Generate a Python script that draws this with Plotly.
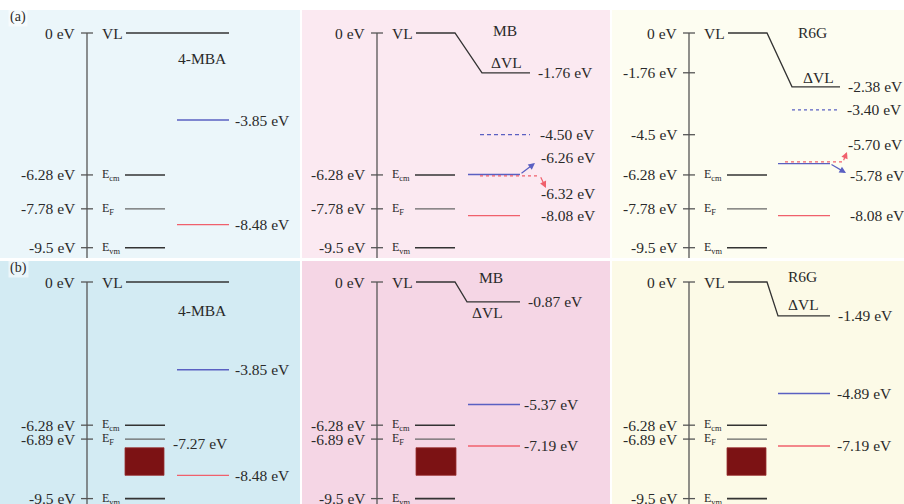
import plotly.graph_objects as go

# ---------------- data (eV) ----------------
molecules = ["4-MBA", "MB", "R6G"]
row_tags = ["(a)", "(b)"]

sub_names = ["VL", "E<sub>cm</sub>", "E<sub>F</sub>", "E<sub>vm</sub>"]
sub_a = [0.0, -6.28, -7.78, -9.5]
sub_b = [0.0, -6.28, -6.89, -9.5]

ticks_a = [[0.0, -6.28, -7.78, -9.5],
           [0.0, -6.28, -7.78, -9.5],
           [0.0, -1.76, -4.5, -6.28, -7.78, -9.5]]
tick_text_a = [["0 eV", "-6.28 eV", "-7.78 eV", "-9.5 eV"],
               ["0 eV", "-6.28 eV", "-7.78 eV", "-9.5 eV"],
               ["0 eV", "-1.76 eV", "-4.5 eV", "-6.28 eV", "-7.78 eV", "-9.5 eV"]]
ticks_b = [0.0, -6.28, -6.89, -9.5]
tick_text_b = ["0 eV", "-6.28 eV", "-6.89 eV", "-9.5 eV"]

vl_a = [0.0, -1.76, -2.38]          # vacuum level on the molecule side
vl_b = [0.0, -0.87, -1.49]

lumo_a = [-3.85, -6.26, -5.78]      # solid blue
homo_a = [-8.48, -8.08, -8.08]      # solid red
lumo_a_dash = [None, -4.50, -3.40]  # dashed blue
homo_a_dot = [None, -6.32, -5.70]   # dotted red

lumo_b = [-3.85, -5.37, -4.89]
homo_b = [-8.48, -7.19, -7.19]
band_b = [-7.27, -8.48]             # filled band below E_F

# ---------------- layout geometry ----------------
W, H = 904, 504
ROWS = [dict(top=10, bottom=258, zero=33, ppe=22.6),
        dict(top=261, bottom=504, zero=282, ppe=22.8)]
COLS = [(0, 300), (302, 610), (612, 904)]
AXIS_X = [87, 377, 689]
BG = [["#ebf6fa", "#fbe9f1", "#fdfdf1"],
      ["#d3ebf3", "#f5d6e5", "#fcfae7"]]

FONT = "Liberation Serif, Times New Roman, serif"
TXT = "#2a2a2a"
BLACK = "#333333"
GREY = "#555555"
BLUE = "#5a60c2"
RED = "#f0606c"
BOX = "#7c1214"

fig = go.Figure()
annotations = []
shapes = []


def ey(r, px):
    """pixel row -> energy coordinate of row r"""
    return (ROWS[r]["zero"] - px) / ROWS[r]["ppe"]


def line(idx, xs, ys, color, width=1.4, dash="solid"):
    fig.add_trace(go.Scatter(x=xs, y=ys, mode="lines", xaxis=f"x{idx}", yaxis=f"y{idx}",
                             line=dict(color=color, width=width, dash=dash),
                             hoverinfo="skip", showlegend=False))


def text(idx, x, y, s, anchor="left", size=15.5):
    annotations.append(dict(x=x, y=y, xref=f"x{idx}", yref=f"y{idx}", text=s,
                            showarrow=False, xanchor=anchor, yanchor="middle",
                            font=dict(family=FONT, size=size, color=TXT)))


def arrow(idx, x0, y0, x1, y1, color):
    annotations.append(dict(x=x1, y=y1, ax=x0, ay=y0, xref=f"x{idx}", yref=f"y{idx}",
                            axref=f"x{idx}", ayref=f"y{idx}", text="", showarrow=True,
                            arrowhead=2, arrowsize=1.1, arrowwidth=1.2, arrowcolor=color))


layout_axes = {}
for r in range(2):
    R = ROWS[r]
    ylo = -(R["bottom"] - R["zero"]) / R["ppe"]
    yhi = (R["zero"] - R["top"]) / R["ppe"]
    for c in range(3):
        idx = r * 3 + c + 1
        x0, x1 = COLS[c]
        sfx = "" if idx == 1 else str(idx)
        layout_axes[f"xaxis{sfx}"] = dict(domain=[x0 / W, x1 / W], range=[x0, x1],
                                          visible=False, fixedrange=True, anchor=f"y{idx}")
        layout_axes[f"yaxis{sfx}"] = dict(domain=[1 - R["bottom"] / H, 1 - R["top"] / H],
                                          range=[ylo, yhi], visible=False, fixedrange=True,
                                          anchor=f"x{idx}")
        shapes.append(dict(type="rect", xref=f"x{idx}", yref=f"y{idx}", x0=x0, x1=x1,
                           y0=ylo, y1=yhi, fillcolor=BG[r][c], line=dict(width=0),
                           layer="below"))

        # energy axis with ticks
        ax = AXIS_X[c]
        line(idx, [ax, ax], [0, ylo], GREY, 1.3)
        tv = ticks_a[c] if r == 0 else ticks_b
        tt = tick_text_a[c] if r == 0 else tick_text_b
        tx, ty = [], []
        for v, s in zip(tv, tt):
            tx += [ax - 6, ax + 6, None]
            ty += [v, v, None]
            text(idx, ax - 9, v, s, anchor="right")
        line(idx, tx, ty, GREY, 1.3)

        # substrate levels
        sub = sub_a if r == 0 else sub_b
        lx0, lx1 = ax + 38, ax + 78
        for k, (name, v) in enumerate(zip(sub_names, sub)):
            if k == 0:
                text(idx, ax + 13, v, name)
            else:
                text(idx, ax + 13, v, name, size=12)
                line(idx, [lx0, lx1], [v, v], BLACK if k != 2 else "#666666",
                     1.6 if k != 2 else 1.2)

        # vacuum level, bending by the dipole step on the molecule side
        if c == 0:
            line(idx, [lx0 + 1, ax + 142], [0, 0], BLACK, 1.5)
        else:
            vl = vl_a[c] if r == 0 else vl_b[c]
            if r == 0:
                bend_end, flat_end = (ax + 105, ax + 153) if c == 1 else (ax + 103, ax + 151)
            else:
                bend_end, flat_end = (ax + 90, ax + 143) if c == 1 else (ax + 89, ax + 141)
            line(idx, [lx0 + 1, lx1, bend_end, flat_end], [0, 0, vl, vl], BLACK, 1.3)
            text(idx, flat_end + 6, vl, f"{vl:.2f} eV")

# ---- row (a) ----
# 4-MBA
text(1, 202, ey(0, 58), "4-MBA", anchor="center")
line(1, [177, 229], [lumo_a[0]] * 2, BLUE)
text(1, 233, lumo_a[0], f"{lumo_a[0]:.2f} eV")
line(1, [177, 229], [homo_a[0]] * 2, RED)
text(1, 233, homo_a[0], f"{homo_a[0]:.2f} eV")

# MB
text(2, 505, ey(0, 30), "MB", anchor="center")
text(2, 506, ey(0, 62), "ΔVL", anchor="center")
line(2, [480, 530], [lumo_a_dash[1]] * 2, BLUE, 1.3, "4px,3px")
text(2, 538, lumo_a_dash[1], f"{lumo_a_dash[1]:.2f} eV")
line(2, [468, 520], [lumo_a[1]] * 2, BLUE, 1.4)
arrow(2, 520, lumo_a[1], 535, ey(0, 163), BLUE)
text(2, 539, ey(0, 157), f"{lumo_a[1]:.2f} eV")
line(2, [480, 540], [homo_a_dot[1]] * 2, RED, 1.3, "dot")
arrow(2, 540, homo_a_dot[1], 546, ey(0, 188), RED)
text(2, 539, ey(0, 193), f"{homo_a_dot[1]:.2f} eV")
line(2, [468, 520], [homo_a[1]] * 2, RED)
text(2, 539, homo_a[1], f"{homo_a[1]:.2f} eV")

# R6G
text(3, 812, ey(0, 32), "R6G", anchor="center")
text(3, 818, ey(0, 77), "ΔVL", anchor="center")
line(3, [792, 840], [lumo_a_dash[2]] * 2, BLUE, 1.2, "dot")
text(3, 845, lumo_a_dash[2], f"{lumo_a_dash[2]:.2f} eV")
line(3, [785, 843], [homo_a_dot[2]] * 2, RED, 1.3, "dot")
arrow(3, 843, homo_a_dot[2], 847, ey(0, 152), RED)
text(3, 846, ey(0, 144), f"{homo_a_dot[2]:.2f} eV")
line(3, [778, 830], [lumo_a[2]] * 2, BLUE, 1.4)
arrow(3, 830, lumo_a[2], 846, ey(0, 173), BLUE)
text(3, 848, ey(0, 175), f"{lumo_a[2]:.2f} eV")
line(3, [778, 830], [homo_a[2]] * 2, RED)
text(3, 848, homo_a[2], f"{homo_a[2]:.2f} eV")

# ---- row (b) ----
left_cols = [(125, 164), (416, 456), (727, 766)]
right_cols = [(177, 229), (468, 520), (778, 830)]
label_x = [233, 522, 835]
for c in range(3):
    idx = 4 + c
    bx0, bx1 = left_cols[c]
    shapes.append(dict(type="rect", xref=f"x{idx}", yref=f"y{idx}", x0=bx0, x1=bx1,
                       y0=band_b[1], y1=band_b[0], fillcolor=BOX,
                       line=dict(color="#9a3030", width=0.8)))
    rx0, rx1 = right_cols[c]
    line(idx, [rx0, rx1], [lumo_b[c]] * 2, BLUE)
    text(idx, label_x[c], lumo_b[c], f"{lumo_b[c]:.2f} eV")
    line(idx, [rx0, rx1], [homo_b[c]] * 2, RED)
    text(idx, label_x[c], homo_b[c], f"{homo_b[c]:.2f} eV")

text(4, 202, ey(1, 310), "4-MBA", anchor="center")
text(4, 171, ey(1, 443), f"{band_b[0]:.2f} eV")
text(5, 491, ey(1, 277), "MB", anchor="center")
text(5, 487, ey(1, 312), "ΔVL", anchor="center")
text(6, 802, ey(1, 276), "R6G", anchor="center")
text(6, 803, ey(1, 304), "ΔVL", anchor="center")

# panel tags
for r, tag in enumerate(row_tags):
    annotations.append(dict(x=8 / W, y=1 - (ROWS[r]["top"] + 7) / H, xref="paper", yref="paper",
                            text=tag, showarrow=False, xanchor="left", yanchor="middle",
                            bgcolor="rgba(255,255,255,0.55)",
                            font=dict(family=FONT, size=14, color=TXT)))

fig.update_layout(width=W, height=H, margin=dict(l=0, r=0, t=0, b=0),
                  paper_bgcolor="white", plot_bgcolor="rgba(0,0,0,0)",
                  shapes=shapes, annotations=annotations, showlegend=False,
                  **layout_axes)
fig.write_html("out.html")
